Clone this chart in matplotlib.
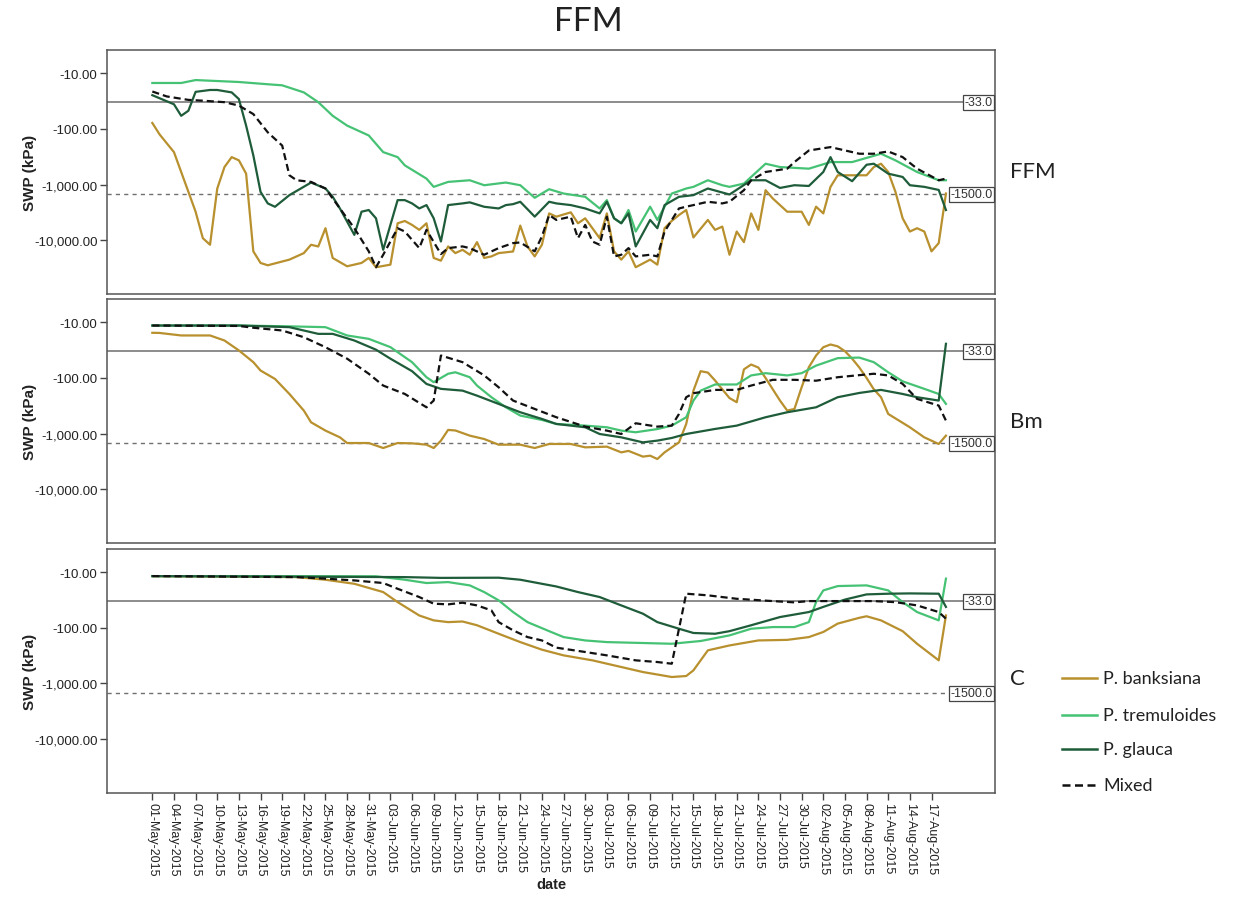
import numpy as np
import matplotlib
matplotlib.use("Agg")
import matplotlib.pyplot as plt
import matplotlib.dates as mdates
import matplotlib.transforms as mtransforms
from matplotlib.ticker import FixedLocator, FuncFormatter
from matplotlib.lines import Line2D

# ---------------- data (day = days since 01-May-2015, SWP in kPa) ----------------
START = "2015-05-01"
series_names = ["P. banksiana", "P. tremuloides", "P. glauca", "Mixed"]
panel_names = ["FFM", "Bm", "C"]
tick_days = list(range(0, 109, 3))
ytick_values = [-10, -100, -1000, -10000]
ref_values = [-33.0, -1500.0]

# --- FFM ---
ffm_banksiana_day = [0, 1, 3, 4, 5, 6, 7, 8, 9, 10, 11, 12, 13, 14, 15, 16, 19, 21, 22, 23, 24, 25, 27, 29, 30, 31, 33,
                     34, 35, 36, 37, 38, 39, 40, 41, 42, 43, 44, 45, 46, 47, 48, 50, 51, 52, 53, 54, 55, 56, 58, 59,
                     60, 62, 63, 64, 65, 66, 67, 69, 70, 71, 72, 73, 74, 75, 77, 78, 79, 80, 81, 82, 83, 84, 85, 86,
                     88, 90, 91, 92, 93, 94, 95, 97, 99, 100, 101, 102, 103, 104, 105, 106, 107, 108, 109, 110]
ffm_banksiana_swp = [-78, -125, -261, -594, -1350, -3080, -9200, -12100, -1180, -484, -321, -367, -637, -15900, -25700,
                     -28300, -22400, -17100, -12100, -13000, -6100, -20900, -29500, -25700, -20900, -30700, -27600,
                     -4970, -4520, -5320, -6530, -4970, -20900, -23400, -12970, -17100, -14900, -18300, -10860,
                     -20900, -19600, -17100, -16000, -5470, -13000, -19600, -12100, -3300, -3780, -3160, -4970,
                     -4045, -9200, -3300, -15900, -22400, -15900, -30700, -22400, -27600, -6100, -4500, -3530, -2870,
                     -8950, -4330, -6530, -5700, -18300, -7000, -10860, -3300, -6530, -1262, -1780, -3080, -3080,
                     -5320, -2500, -3300, -1100, -681, -681, -681, -484, -422, -594, -1350, -4045, -7000, -6100,
                     -7000, -15900, -11300, -1450]

ffm_tremuloides_day = [0, 4, 6, 12, 16, 18, 21, 23, 25, 27, 30, 32, 34, 35, 38, 39, 41, 44, 46, 49, 51, 53, 55, 57, 60,
                       62, 63, 64, 65, 66, 67, 69, 70, 72, 74, 75, 77, 79, 80, 82, 83, 85, 87, 91, 94, 97, 101, 103,
                       106, 109, 110]
ffm_tremuloides_swp = [-14.9, -14.9, -13.2, -14.3, -15.7, -16.4, -22, -33, -58, -87, -131, -261, -321, -452, -782,
                       -1100, -896, -837, -1028, -920, -1028, -1730, -1212, -1450, -1660, -2690, -1906, -4045, -4970,
                       -2870, -7000, -2500, -4330, -1450, -1178, -1100, -837, -1028, -1100, -960, -730, -422, -484,
                       -518, -394, -394, -279, -367, -594, -837, -837]

ffm_glauca_day = [0, 3, 4, 5, 6, 8, 9, 11, 12, 13, 14, 15, 16, 17, 19, 22, 24, 25, 26, 27, 28, 29, 30, 31, 32, 33, 34,
                  35, 36, 37, 38, 39, 40, 41, 43, 44, 46, 48, 49, 50, 51, 53, 55, 56, 58, 60, 62, 63, 64, 65, 66, 67,
                  69, 70, 71, 73, 75, 77, 79, 80, 83, 85, 87, 89, 91, 93, 94, 95, 97, 99, 100, 102, 104, 105, 107,
                  109, 110]
ffm_glauca_swp = [-24.7, -36, -58, -47, -21.5, -19.9, -19.9, -22, -29, -87, -299, -1352, -2183, -2510, -1550, -920,
                  -1178, -1660, -2690, -4645, -8030, -3076, -2870, -4045, -14900, -5320, -1906, -1906, -2183, -2690,
                  -2340, -4045, -10570, -2340, -2183, -2090, -2510, -2690, -2340, -2250, -2040, -3775, -2040, -2183,
                  -2340, -2690, -3300, -2040, -4045, -4970, -3300, -12970, -4330, -6100, -2340, -1660, -1550, -1178,
                  -1390, -1510, -837, -837, -1150, -1028, -1060, -594, -321, -594, -870, -440, -422, -637, -730,
                  -1028, -1100, -1250, -2870]

ffm_mixed_day = [0, 2, 5, 7, 10, 12, 14, 16, 18, 19, 20, 22, 24, 26, 28, 30, 31, 32, 34, 35, 36, 37, 38, 40, 41, 43,
                 44, 46, 48, 50, 51, 53, 54, 55, 56, 58, 59, 60, 61, 62, 63, 64, 65, 66, 67, 69, 70, 71, 73, 74, 75,
                 77, 79, 80, 82, 83, 85, 88, 89, 91, 94, 98, 100, 102, 104, 106, 109, 110]
ffm_mixed_swp = [-21.2, -26, -30, -31, -33, -38, -54, -115, -199, -681, -837, -896, -1178, -2690, -6100, -15900,
                 -30700, -18300, -6100, -7000, -9860, -13900, -6530, -17800, -13900, -12970, -13900, -18300, -13900,
                 -11300, -11000, -15900, -8600, -3530, -4330, -3780, -9200, -5320, -10570, -12100, -3780, -19600,
                 -18300, -13900, -19600, -18300, -19600, -7000, -2690, -2500, -2340, -2040, -2183, -2040, -1262,
                 -837, -594, -518, -394, -244, -212, -279, -279, -254, -321, -518, -837, -782]

# --- Bm ---
bm_banksiana_day = [0, 1, 4, 8, 10, 12, 14, 15, 17, 19, 21, 22, 24, 26, 27, 30, 32, 34, 36, 38, 39, 40, 41, 42, 44, 46,
                    48, 51, 53, 55, 58, 60, 63, 65, 66, 68, 69, 70, 71, 73, 74, 75, 76, 77, 78, 79, 80, 81, 82, 83,
                    84, 85, 86, 87, 88, 89, 90, 91, 92, 93, 94, 95, 96, 97, 98, 99, 100, 101, 102, 105, 107, 109, 110]
bm_banksiana_swp = [-15.4, -15.5, -17.2, -17.2, -21.2, -32, -52, -73.5, -104, -194, -386, -627, -885, -1170, -1480,
                    -1480, -1820, -1480, -1500, -1585, -1820, -1343, -860, -880, -1090, -1254, -1585, -1585, -1820,
                    -1540, -1540, -1770, -1720, -2180, -2050, -2600, -2500, -2870, -2180, -1440, -672, -169, -75.5,
                    -80, -111, -160, -230, -273, -70, -57.3, -65, -100, -160, -255, -386, -361, -147, -64, -39.5,
                    -28, -25, -27, -33, -45, -65, -100, -160, -222, -444, -771, -1170, -1540, -1090]

bm_tremuloides_day = [0, 12, 19, 24, 27, 30, 33, 36, 38, 39, 41, 42, 44, 45, 47, 49, 51, 54, 56, 60, 63, 65, 67, 70,
                      72, 74, 75, 76, 78, 81, 83, 85, 88, 90, 92, 95, 98, 100, 102, 104, 107, 109, 110]
bm_tremuloides_swp = [-11.4, -11.4, -11.8, -12.2, -17.2, -19.8, -27.9, -52, -97, -119, -84, -79, -97, -137, -222,
                      -337, -475, -569, -672, -720, -771, -885, -948, -830, -720, -509, -255, -169, -131, -131, -90,
                      -82, -90, -82, -60, -44, -43, -52, -79, -115, -157, -194, -293]

bm_glauca_day = [0, 12, 19, 23, 25, 28, 31, 33, 36, 38, 40, 43, 45, 48, 51, 54, 56, 60, 62, 65, 68, 70, 72, 74, 78,
                 81, 85, 88, 92, 95, 98, 101, 104, 106, 109, 110]
bm_glauca_swp = [-11.4, -11.4, -12.2, -16.1, -16.1, -21.2, -31, -45, -75.5, -128, -157, -169, -208, -293, -414,
                 -546, -672, -771, -1018, -1170, -1440, -1340, -1200, -1018, -826, -720, -509, -414, -337, -222,
                 -186, -164, -194, -222, -255, -24.3]

bm_mixed_day = [0, 12, 14, 18, 21, 24, 27, 30, 32, 35, 38, 39, 40, 43, 46, 48, 50, 53, 56, 60, 63, 65, 67, 70, 72,
                73, 74, 75, 78, 81, 83, 86, 89, 92, 95, 100, 102, 104, 106, 109, 110]
bm_mixed_swp = [-11.4, -11.6, -12.5, -14, -18.5, -28, -45, -84, -137, -194, -337, -255, -39.5, -52, -90, -147, -255,
                -361, -509, -750, -885, -1018, -653, -750, -720, -444, -222, -188, -164, -164, -137, -108, -108,
                -112, -97, -84, -90, -128, -238, -314, -585]

# --- C ---
c_banksiana_day = [0, 20, 24, 28, 32, 34, 37, 39, 41, 43, 45, 48, 51, 54, 57, 61, 64, 68, 72, 74, 75, 77, 80, 84, 88,
                   91, 93, 95, 98, 99, 101, 104, 106, 109, 110]
c_banksiana_swp = [-11.7, -12.2, -13.6, -16.1, -22.7, -34.4, -60, -73.5, -79, -77, -90, -128, -181, -248, -314,
                   -386, -475, -627, -771, -740, -585, -255, -208, -169, -165, -147, -119, -84, -66, -62, -73.5,
                   -115, -194, -386, -60]

c_tremuloides_day = [0, 31, 35, 38, 41, 44, 46, 48, 50, 52, 55, 57, 60, 63, 68, 72, 76, 80, 83, 86, 89, 91, 92, 93,
                     95, 99, 102, 104, 106, 109, 110]
c_tremuloides_swp = [-11.7, -11.8, -13.6, -15.6, -15, -17.2, -22.7, -32, -52, -79, -115, -147, -169, -181, -188,
                     -194, -173, -137, -104, -97, -97, -79, -34.4, -21.2, -17.7, -17.2, -21.2, -34.4, -52, -73.5, -13]

c_glauca_day = [0, 35, 40, 48, 51, 54, 56, 59, 62, 65, 68, 70, 73, 75, 78, 80, 83, 87, 91, 93, 96, 99, 102, 105, 109,
                110]
c_glauca_swp = [-11.7, -12.2, -12.6, -12.5, -13.6, -16.1, -18, -22.7, -27.9, -39.5, -55.7, -79, -104, -124, -128,
                -115, -90, -64, -52, -42, -31, -25, -24.3, -24, -24.3, -42]

c_mixed_day = [0, 20, 24, 28, 32, 34, 37, 39, 41, 43, 45, 47, 48, 50, 52, 54, 56, 60, 63, 67, 70, 72, 74, 77, 81, 86,
               89, 91, 95, 100, 103, 106, 109, 110]
c_mixed_swp = [-11.7, -12.2, -13, -14, -15.6, -19.8, -27.9, -36.8, -37.8, -35.3, -39.5, -48.5, -79, -111, -147, -169,
               -228, -273, -314, -386, -414, -444, -24.3, -26, -30, -33, -34.8, -33, -33, -33, -34.5, -39.5, -52,
               -68.5]

panels = [
    [(ffm_banksiana_day, ffm_banksiana_swp), (ffm_tremuloides_day, ffm_tremuloides_swp),
     (ffm_glauca_day, ffm_glauca_swp), (ffm_mixed_day, ffm_mixed_swp)],
    [(bm_banksiana_day, bm_banksiana_swp), (bm_tremuloides_day, bm_tremuloides_swp),
     (bm_glauca_day, bm_glauca_swp), (bm_mixed_day, bm_mixed_swp)],
    [(c_banksiana_day, c_banksiana_swp), (c_tremuloides_day, c_tremuloides_swp),
     (c_glauca_day, c_glauca_swp), (c_mixed_day, c_mixed_swp)],
]

# ---------------- styling ----------------
colors = ["#B8902E", "#46C274", "#1E5C3A", "#111111"]
styles = ["-", "-", "-", (0, (3.2, 1.8))]
W, H = 1236, 903
ax_left, ax_right = 107.3, 995.0
panel_px = [(51, 295), (300, 544), (550, 793.5)]
panel_label_y = [172, 422, 679]
TICK_FONT = ["Liberation Sans", "DejaVu Sans"]
SLIDE_FONT = ["Lato", "DejaVu Sans"]

base = mdates.date2num(np.datetime64(START))


def fwd(y):
    y = np.asarray(y, dtype=float)
    with np.errstate(divide="ignore", invalid="ignore"):
        return -np.log10(-y)


def inv(t):
    t = np.asarray(t, dtype=float)
    return -np.power(10.0, -t)


def yfmt(v, pos):
    return "{:,.2f}".format(v)


fig = plt.figure(figsize=(W / 100, H / 100), dpi=100)
axes = []
for i, (top, bot) in enumerate(panel_px):
    ax = fig.add_axes([ax_left / W, 1 - bot / H, (ax_right - ax_left) / W, (bot - top) / H])
    axes.append(ax)
    ax.set_yscale("function", functions=(fwd, inv))
    for (d, v), c, ls in zip(panels[i], colors, styles):
        ax.plot(base + np.asarray(d, float), v, color=c, lw=1.6, ls=ls, zorder=3)
    ax.axhline(ref_values[0], color="#8c8c8c", lw=1.4, zorder=1)
    ax.axhline(ref_values[1], color="#707070", lw=1.0, ls=(0, (3, 3)), zorder=1)
    trans = mtransforms.blended_transform_factory(ax.transAxes, ax.transData)
    for rv in ref_values:
        ax.text(0.997, rv, "{:.1f}".format(rv), transform=trans, ha="right", va="center",
                fontsize=9, family=TICK_FONT, color="#333333", zorder=6,
                bbox=dict(boxstyle="square,pad=0.12", fc="white", ec="#444444", lw=0.9))
    ax.set_ylim(-93000, -3.8)
    ax.set_xlim(base - 6.24, base + 116.8)
    ax.yaxis.set_major_locator(FixedLocator(ytick_values))
    ax.yaxis.set_minor_locator(FixedLocator([]))
    ax.yaxis.set_major_formatter(FuncFormatter(yfmt))
    ax.xaxis.set_major_locator(FixedLocator([base + d for d in tick_days]))
    ax.xaxis.set_minor_locator(FixedLocator([]))
    ax.tick_params(axis="y", direction="out", length=5, width=1.0, color="#444444",
                   labelsize=9.5, labelcolor="#222222", pad=2)
    for lab in ax.get_yticklabels():
        lab.set_family(TICK_FONT)
    for sp in ax.spines.values():
        sp.set_color("#555555")
        sp.set_linewidth(1.1)
    ax.set_ylabel("SWP (kPa)", fontsize=11, fontweight="bold", family=TICK_FONT, color="#222222")
    ax.yaxis.set_label_coords(-0.079, 0.5)
    if i < 2:
        ax.tick_params(axis="x", bottom=False, labelbottom=False)
    else:
        ax.xaxis.set_major_formatter(mdates.DateFormatter("%d-%b-%Y"))
        ax.tick_params(axis="x", direction="out", length=5, width=1.0, color="#444444",
                       labelsize=9, labelcolor="#222222", pad=2)
        for lab in ax.get_xticklabels():
            lab.set_rotation(270)
            lab.set_ha("center")
            lab.set_va("top")
            lab.set_family(TICK_FONT)
        ax.set_xlabel("date", fontsize=10.5, fontweight="bold", family=TICK_FONT, color="#222222")
        ax.xaxis.set_label_coords(0.5, -0.345)
    fig.text(1010 / W, 1 - panel_label_y[i] / H, panel_names[i], fontsize=16, family=SLIDE_FONT,
             ha="left", va="center", color="#222222")

# title
fig.text(588 / W, 1 - 22 / H, "FFM", fontsize=24, family=SLIDE_FONT, ha="center", va="center", color="#222222")

# legend
leg_y = [679, 716, 750, 786]
for name, c, ls, y in zip(series_names, colors, styles, leg_y):
    fig.add_artist(Line2D([1062 / W, 1097 / W], [1 - y / H, 1 - y / H], transform=fig.transFigure,
                          color=c, lw=1.8, ls=ls))
    fig.text(1103 / W, 1 - y / H, name, fontsize=13, family=SLIDE_FONT, ha="left", va="center",
             color="#222222")

fig.savefig("out.png", dpi=100)
